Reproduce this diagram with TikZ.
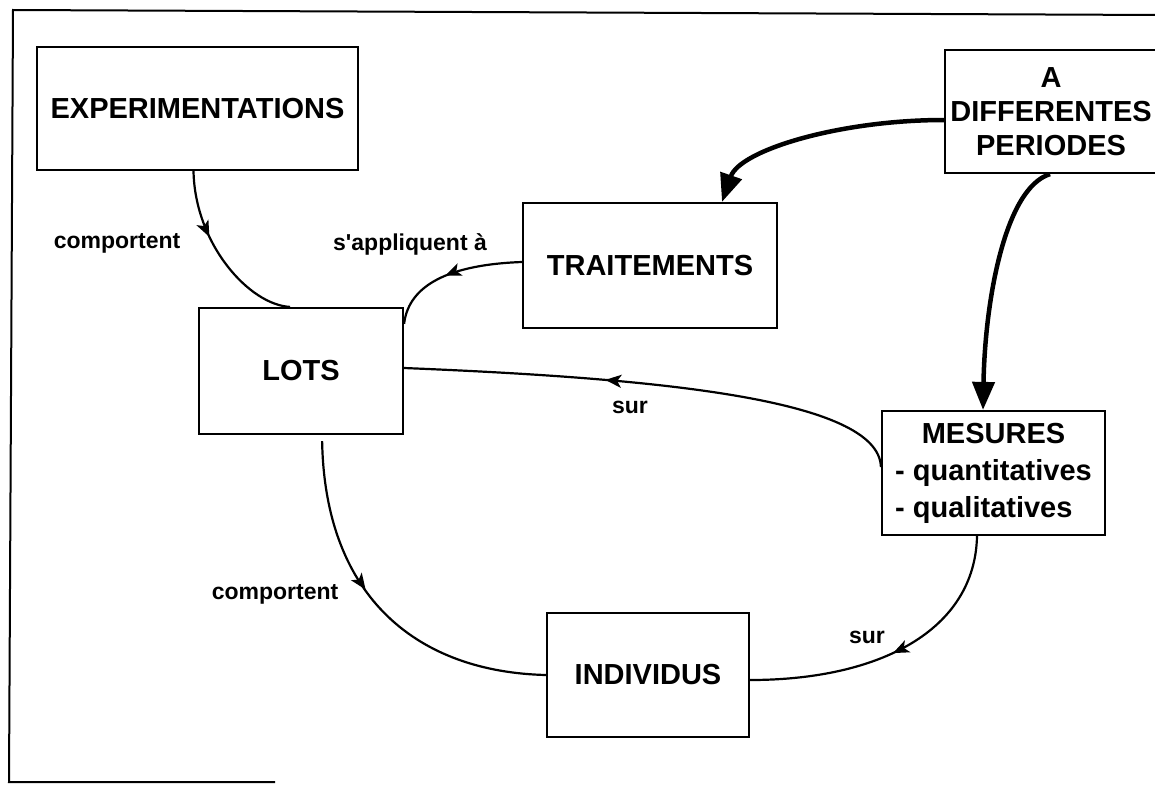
\documentclass[tikz,border=0pt]{standalone}
\usepackage{fontspec}
\setmainfont{Liberation Sans}
\usetikzlibrary{arrows.meta,decorations.markings}

\tikzset{
  conceptbox/.style={draw, line width=2.2pt, inner sep=0pt, align=center,
    font=\fontsize{29}{34}\selectfont\bfseries},
  linklabel/.style={font=\fontsize{23}{26}\selectfont\bfseries, inner sep=0pt},
  thinlink/.style={line width=2.2pt},
  midarrow/.style={postaction={decorate}, decoration={markings,
    mark=at position #1 with {\arrow{Stealth[length=16pt,width=13pt,inset=4pt]}}}},
  heavylink/.style={line width=4.5pt, -{Triangle[length=28pt,width=22pt]}},
  pageframe/.style={line width=2pt}
}

\begin{document}
\begin{tikzpicture}[x=1pt, y=-1pt]
  \useasboundingbox (0,0) rectangle (1155,784);

  % outer frame (open on the right)
  \coordinate (fbl) at (9,782);
  \coordinate (ftl) at (13,10);
  \coordinate (ftr) at (1160,15);
  \coordinate (fbr) at (275,782);
  \draw[pageframe] (fbr) -- (fbl) -- (ftl) -- (ftr);

  % concepts
  \node[conceptbox, minimum width=321pt, minimum height=123pt] (exp)   at (197.5,108.5) {EXPERIMENTATIONS};
  \node[conceptbox, minimum width=254pt, minimum height=125pt] (trait) at (650,265.5) {TRAITEMENTS};
  \node[conceptbox, minimum width=204pt, minimum height=126pt] (lots)  at (301,371) {LOTS};
  \node[conceptbox, minimum width=212pt, minimum height=123pt] (adp)   at (1051,111.5) {A\\DIFFERENTES\\PERIODES};
  \node[conceptbox, minimum width=223pt, minimum height=124pt,
        font=\fontsize{29}{37}\selectfont\bfseries] (mes) at (993.5,473)
        {\begin{tabular}{@{}l@{}}\multicolumn{1}{@{}c@{}}{MESURES}\\- quantitatives\\- qualitatives\end{tabular}};
  \node[conceptbox, minimum width=202pt, minimum height=124pt] (ind)   at (648,675) {INDIVIDUS};

  % thin links with mid arrows
  \draw[thinlink, midarrow=0.38] ([xshift=-4pt]exp.south)
     .. controls (195,245) and (250,305) .. ([xshift=-11pt]lots.north);
  \draw[thinlink, midarrow=0.54] ([yshift=3.5pt]trait.west)
     .. controls (440,265) and (408,290) .. ([yshift=-17pt]lots.north east);
  \draw[thinlink, midarrow=0.6] ([yshift=6pt]mes.west)
     .. controls (879,398) and (650,378) .. ([yshift=3pt]lots.east);
  \draw[thinlink, midarrow=0.51] ([xshift=-16.5pt]mes.south)
     .. controls (975,630) and (880,680) .. ([yshift=-5pt]ind.east);
  \draw[thinlink, midarrow=0.44, shorten <=6pt] ([xshift=21pt]lots.south)
     .. controls (325,600) and (420,672) .. (ind.west);

  % heavy links
  \draw[heavylink] ([yshift=-8.5pt]adp.west)
     .. controls (840,120) and (740,150) .. ([xshift=72pt]trait.north);
  \draw[heavylink] ([xshift=-1pt]adp.south)
     .. controls (1005,188) and (985,300) .. ([xshift=-10.5pt]mes.north);

  % link labels
  \node[linklabel] (l1) at (117,243) {comportent};
  \node[linklabel] (l2) at (410,244) {s\textquotesingle appliquent à};
  \node[linklabel] (l3) at (630,407) {sur};
  \node[linklabel] (l4) at (867,637) {sur};
  \node[linklabel] (l5) at (275,594) {comportent};
\end{tikzpicture}
\end{document}
